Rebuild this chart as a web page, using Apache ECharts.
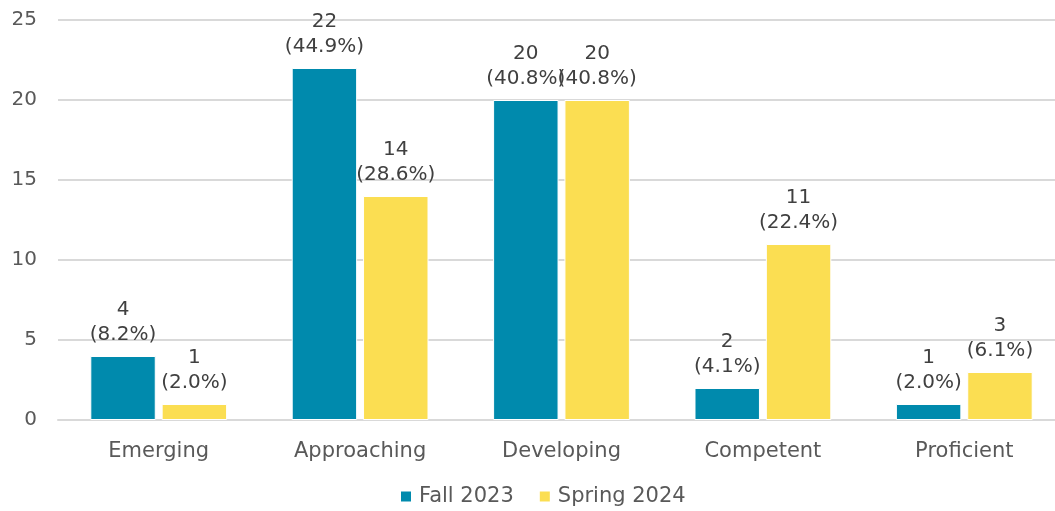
<!DOCTYPE html>
<html>
<head>
<meta charset="utf-8">
<script src="https://cdn.jsdelivr.net/npm/echarts@6/dist/echarts.min.js"></script>
<style>
  html, body { margin: 0; padding: 0; background: #fff; overflow: hidden; }
  #chart { width: 1066px; height: 511px; }
</style>
</head>
<body>
<div id="chart"></div>
<script>
const categories = ['Emerging', 'Approaching', 'Developing', 'Competent', 'Proficient'];
const fall2023 = [4, 22, 20, 2, 1];
const spring2024 = [1, 14, 20, 11, 3];
const fallPct = ['8.2%', '44.9%', '40.8%', '4.1%', '2.0%'];
const springPct = ['2.0%', '28.6%', '40.8%', '22.4%', '6.1%'];
const yTicks = [0, 5, 10, 15, 20, 25];

const font = '"DejaVu Sans", Verdana, sans-serif';

function labelFor(pcts) {
  return {
    show: true,
    position: 'top',
    distance: 9,
    color: '#404040',
    fontFamily: font,
    fontSize: 20,
    lineHeight: 25,
    formatter: p => p.value + '\n(' + pcts[p.dataIndex] + ')'
  };
}

const chart = echarts.init(document.getElementById('chart'));
chart.setOption({
  animation: false,
  grid: { left: 58, right: 1, top: 20, bottom: 91, containLabel: false },
  legend: {
    left: 394,
    bottom: -1,
    itemWidth: 12,
    itemHeight: 12,
    itemGap: 24,
    icon: 'rect',
    textStyle: { color: '#595959', fontFamily: font, fontSize: 21, padding: [0, 0, 0, 2] },
    data: ['Fall 2023', 'Spring 2024']
  },
  xAxis: {
    type: 'category',
    data: categories,
    axisLine: { lineStyle: { color: '#d9d9d9', width: 2 } },
    axisTick: { show: false },
    axisLabel: { color: '#595959', fontFamily: font, fontSize: 21, margin: 21 },
    z: 1
  },
  yAxis: {
    type: 'value',
    min: yTicks[0],
    max: yTicks[yTicks.length - 1],
    interval: 5,
    axisLine: { show: false },
    axisTick: { show: false },
    axisLabel: { color: '#595959', fontFamily: font, fontSize: 20, margin: 21 },
    splitLine: { lineStyle: { color: '#d9d9d9', width: 2 } }
  },
  series: [
    {
      name: 'Fall 2023',
      type: 'bar',
      data: fall2023,
      barWidth: '32.5%',
      barGap: '9%',
      itemStyle: { color: '#008aad', borderColor: '#fff', borderWidth: 1 },
      label: labelFor(fallPct)
    },
    {
      name: 'Spring 2024',
      type: 'bar',
      data: spring2024,
      barWidth: '32.5%',
      itemStyle: { color: '#fbde52', borderColor: '#fff', borderWidth: 1 },
      label: labelFor(springPct)
    }
  ]
});
</script>
</body>
</html>
